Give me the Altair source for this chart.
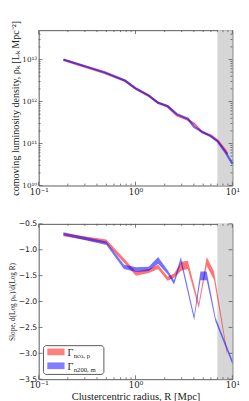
import altair as alt
import pandas as pd

# ---------------- data ----------------
series_names = ["nco, p", "n200, m"]
series_colors = ["#ff0000", "#0000ff"]

# top panel: comoving luminosity density profiles
top_R_nco = [0.18, 0.48, 0.78, 1.01, 1.37, 1.71, 2.14, 2.67, 3.47, 4.03, 4.88, 6.0, 7.05, 8.5, 8.9]
top_rho_nco = [9.8e12, 4.8e12, 3.1e12, 2.0e12, 1.38e12, 9.3e11, 7.6e11, 4.7e11, 3.7e11,
               2.95e11, 1.86e11, 1.55e11, 1.17e11, 6.8e10, 5.6e10]
top_R_n200 = [0.18, 0.48, 0.78, 1.01, 1.37, 1.71, 2.14, 2.67, 3.47, 4.03, 4.88, 6.0, 7.05, 8.5, 10.0]
top_rho_n200 = [1.0e13, 5.0e12, 3.16e12, 2.04e12, 1.38e12, 9.3e11, 7.8e11, 5.0e11, 3.9e11,
                2.5e11, 1.9e11, 1.48e11, 1.12e11, 6.2e10, 3.3e10]

# bottom panel: logarithmic slope bands (lower / upper edge)
bot_R_nco = [0.18, 0.5, 0.76, 1.01, 1.37, 1.71, 2.14, 2.5, 2.99, 3.47, 4.5, 5.43, 6.46, 8.8]
bot_lo_nco = [-0.74, -0.88, -1.25, -1.50, -1.45, -1.37, -1.60, -1.54, -1.40, -1.37, -2.13, -1.31, -1.58, -3.02]
bot_hi_nco = [-0.68, -0.80, -1.17, -1.42, -1.37, -1.29, -1.52, -1.46, -1.23, -1.21, -2.04, -1.14, -1.42, -2.95]
bot_R_n200 = [0.18, 0.5, 0.76, 1.02, 1.37, 1.71, 2.14, 2.5, 2.94, 4.03, 4.68, 5.43, 6.7, 10.0]
bot_lo_n200 = [-0.72, -0.91, -1.37, -1.43, -1.41, -1.27, -1.47, -1.67, -1.25, -2.36, -1.59, -1.59, -2.39, -3.21]
bot_hi_n200 = [-0.66, -0.84, -1.29, -1.34, -1.33, -1.14, -1.39, -1.59, -1.14, -2.27, -1.42, -1.42, -2.31, -3.13]

# shaded region
shade_from = [7.0]
shade_to = [10.0]

# tick values
x_major = [0.1, 1.0, 10.0]
x_minor = [0.2, 0.3, 0.4, 0.5, 0.6, 0.7, 0.8, 0.9, 2, 3, 4, 5, 6, 7, 8, 9]
ytop_major = [1e10, 1e11, 1e12, 1e13]
ytop_minor = [m * 10.0 ** e for e in (10, 11, 12) for m in range(2, 10)] + [2e13, 3e13, 4e13]
ybot_major = [-3.5, -3.0, -2.5, -2.0, -1.5, -1.0, -0.5]

legend_main = ["Γ", "Γ"]
legend_sub = series_names

x_title = "Clustercentric radius, R [Mpc]"
ytop_title = "comoving luminosity density, ρₖ [Lₖ Mpc⁻²]"
ybot_title = "Slope, d(Log ρₗₖ)/d(Log R)"

# ---------------- styling ----------------
W, H = 202, 162
SERIF = "Liberation Serif"
TICKSERIF = "DejaVu Serif"
SANS = "DejaVu Sans"
TICKCOL = "#555555"

x_label_expr = "datum.value < 0.5 ? '10⁻¹' : datum.value < 5 ? '10⁰' : '10¹'"
ytop_label_expr = ("datum.value > 5e12 ? '10¹³' : datum.value > 5e11 ? '10¹²' : "
                   "datum.value > 5e10 ? '10¹¹' : '10¹⁰'")

xscale = alt.Scale(type="log", domain=[0.1, 10], nice=False)
ytop_scale = alt.Scale(type="log", domain=[1e10, 5e13], nice=False)
ybot_scale = alt.Scale(type="linear", domain=[-3.5, -0.5], nice=False, zero=False)


def x_axis(title):
    kw = dict(values=x_major, labelExpr=x_label_expr, ticks=False, domain=False, grid=False,
              labelFont=TICKSERIF, labelFontSize=9, labelPadding=2, labelFlush=False,
              labelOverlap=False, labelColor="#222222")
    if title:
        kw.update(title=title, titleFont=SERIF, titleFontSize=11, titleFontWeight="normal",
                  titlePadding=1, titleColor="#222222")
    else:
        kw.update(title=None)
    return alt.Axis(**kw)


ytop_axis = alt.Axis(values=ytop_major, labelExpr=ytop_label_expr, ticks=False, domain=False,
                     grid=False, labelFont=TICKSERIF, labelFontSize=7.5, labelPadding=2,
                     labelOverlap=False, labelColor="#222222", title=ytop_title,
                     titleFont=SERIF, titleFontSize=10.5, titleFontWeight="normal",
                     titlePadding=1, titleColor="#222222")
ybot_axis = alt.Axis(values=ybot_major, format=".1f", ticks=False, domain=False, grid=False,
                     labelFont=SANS, labelFontSize=8, labelPadding=2, labelOverlap=False,
                     labelColor="#222222", title=ybot_title, titleFont=SERIF,
                     titleFontSize=7.5, titleFontWeight="normal", titlePadding=2,
                     titleColor="#222222")


def tick_layers(xax, yscale, yaxis, ymaj, ymin):
    layers = []
    for vals, size in ((x_major, 4), (x_minor, 2)):
        df = pd.DataFrame({"v": vals})
        for y0, y1 in ((H, H - size), (0, size)):
            layers.append(alt.Chart(df).mark_rule(color=TICKCOL, strokeWidth=0.8).encode(
                x=alt.X("v:Q", scale=xscale, axis=xax), y=alt.value(y0), y2=alt.value(y1)))
    for vals, size in ((ymaj, 4), (ymin, 2)):
        if not vals:
            continue
        df = pd.DataFrame({"v": vals})
        for x0, x1 in ((0, size), (W, W - size)):
            layers.append(alt.Chart(df).mark_rule(color=TICKCOL, strokeWidth=0.8).encode(
                y=alt.Y("v:Q", scale=yscale, axis=yaxis), x=alt.value(x0), x2=alt.value(x1)))
    return layers


def shade_layer(xax):
    df = pd.DataFrame({"x0": shade_from, "x1": shade_to})
    return alt.Chart(df).mark_rect(color="#d6d6d6").encode(
        x=alt.X("x0:Q", scale=xscale, axis=xax), x2="x1:Q", y=alt.value(0), y2=alt.value(H))


# ---------------- top panel ----------------
xa_top = x_axis(None)
top_layers = [shade_layer(xa_top)]
for R, rho, col in ((top_R_nco, top_rho_nco, series_colors[0]),
                    (top_R_n200, top_rho_n200, series_colors[1])):
    df = pd.DataFrame({"R": R, "rho": rho})
    top_layers.append(alt.Chart(df).mark_line(color=col, strokeWidth=2.3, opacity=0.6).encode(
        x=alt.X("R:Q", scale=xscale, axis=xa_top),
        y=alt.Y("rho:Q", scale=ytop_scale, axis=ytop_axis)))
top_layers += tick_layers(xa_top, ytop_scale, ytop_axis, ytop_major, ytop_minor)
top = alt.layer(*top_layers).properties(width=W, height=H)

# ---------------- bottom panel ----------------
xa_bot = x_axis(x_title)
bot_layers = [shade_layer(xa_bot)]
for R, lo, hi, col in ((bot_R_nco, bot_lo_nco, bot_hi_nco, series_colors[0]),
                       (bot_R_n200, bot_lo_n200, bot_hi_n200, series_colors[1])):
    df = pd.DataFrame({"R": R, "lo": lo, "hi": hi})
    bot_layers.append(alt.Chart(df).mark_area(color=col, opacity=0.55).encode(
        x=alt.X("R:Q", scale=xscale, axis=xa_bot),
        y=alt.Y("lo:Q", scale=ybot_scale, axis=ybot_axis), y2="hi:Q"))
bot_layers += tick_layers(xa_bot, ybot_scale, ybot_axis, ybot_major, [])

# legend (drawn by hand to allow subscripts)
one = pd.DataFrame({"a": [0]})
bot_layers.append(alt.Chart(one).mark_rect(fill="white", stroke="#555555", strokeWidth=1,
                                           cornerRadius=3).encode(
    x=alt.value(5), x2=alt.value(68), y=alt.value(127), y2=alt.value(157)))
for i in range(2):
    yb = 137 + 14.5 * i
    bot_layers.append(alt.Chart(one).mark_rect(color=series_colors[i], opacity=0.5).encode(
        x=alt.value(9), x2=alt.value(27), y=alt.value(yb - 7), y2=alt.value(yb)))
    bot_layers.append(alt.Chart(one).mark_text(align="left", baseline="alphabetic", font=SERIF,
                                               fontSize=10.5, color="#222222").encode(
        x=alt.value(30), y=alt.value(yb + 0.5), text=alt.value(legend_main[i])))
    bot_layers.append(alt.Chart(one).mark_text(align="left", baseline="alphabetic", font=SERIF,
                                               fontSize=7, color="#222222").encode(
        x=alt.value(36.5), y=alt.value(yb + 2.5), text=alt.value(legend_sub[i])))

bottom = alt.layer(*bot_layers).properties(width=W, height=H)

chart = alt.vconcat(top, bottom, spacing=40, bounds="flush").properties(
    padding={"left": 0, "top": 1.5, "right": 0, "bottom": 0},
    background="white",
).configure_view(stroke="#555555", strokeWidth=1)

chart.save("out.html", embed_options={"renderer": "svg", "actions": False})
